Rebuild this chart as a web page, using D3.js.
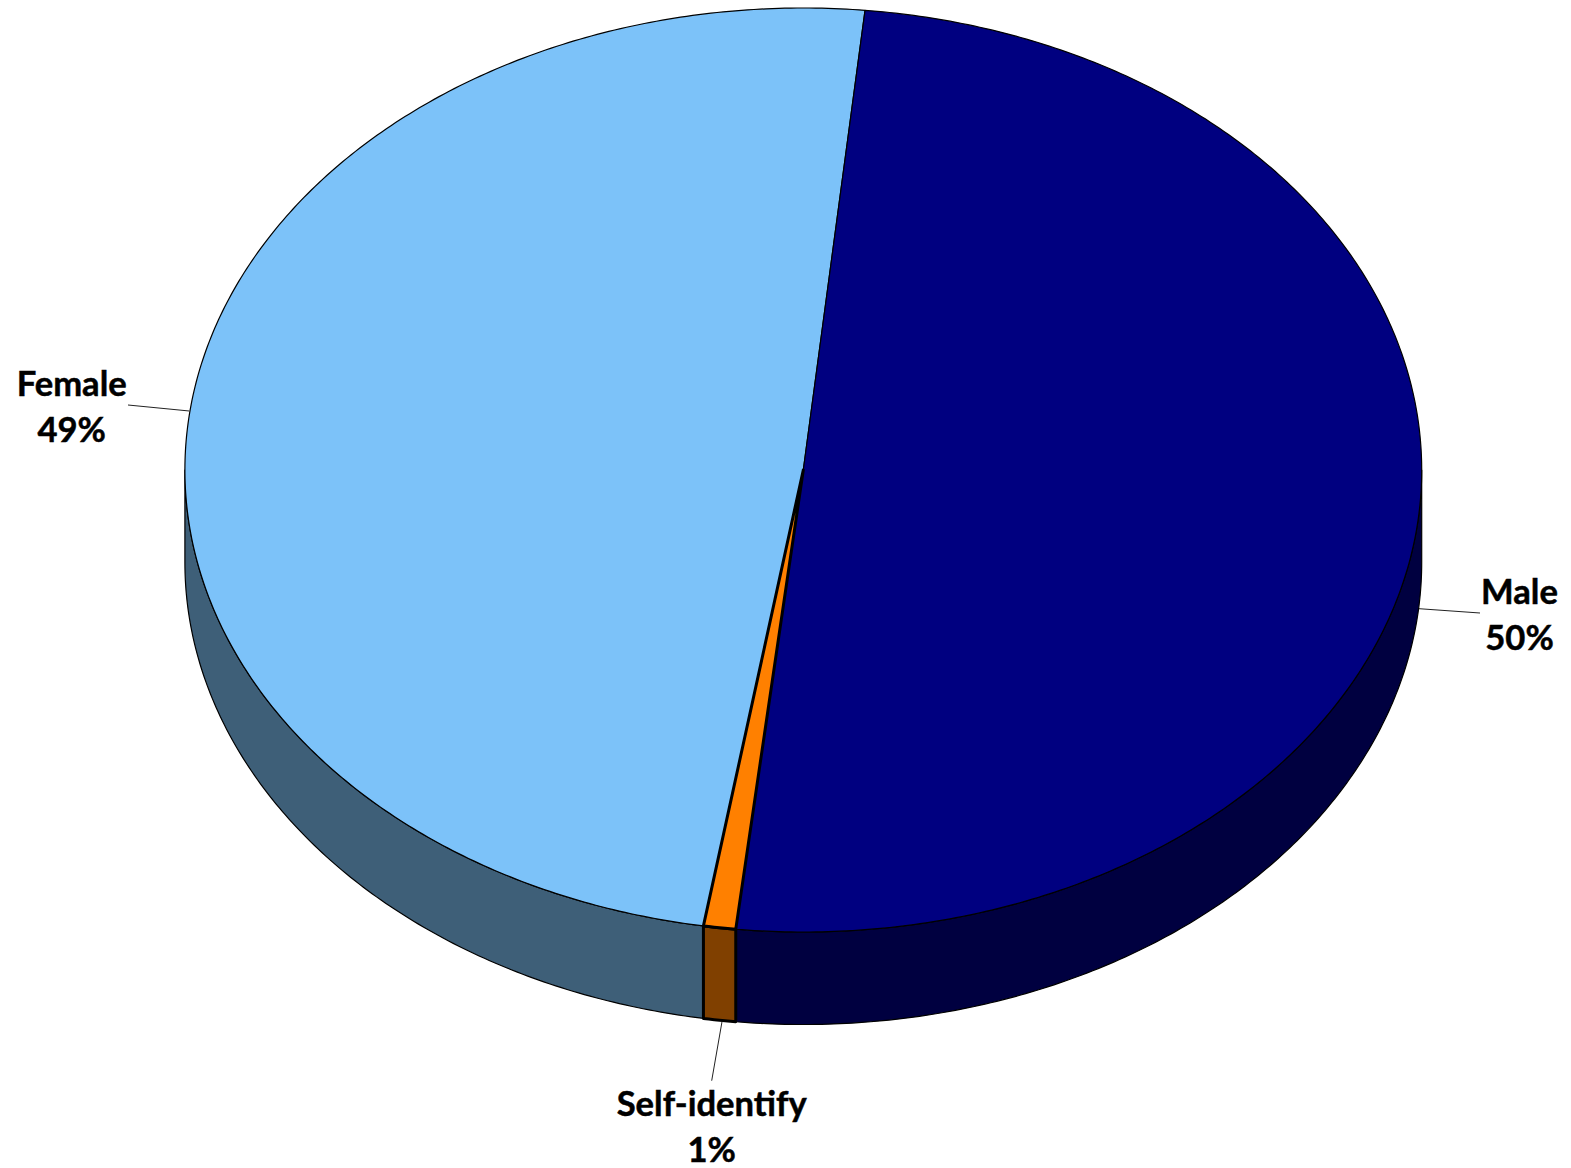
<!DOCTYPE html>
<html>
<head>
<meta charset="utf-8">
<script src="https://cdn.jsdelivr.net/npm/d3@7"></script>
<style>
html,body{margin:0;padding:0;background:#fff;overflow:hidden}
svg{display:block}
text{font-family:Lato,"Noto Sans",sans-serif;font-weight:700;font-size:34.6px;fill:#000;stroke:#000;stroke-width:0.5px;text-anchor:middle}
</style>
</head>
<body>
<svg id="chart" width="1571" height="1168"></svg>
<script>
const categories = ["Male", "Self-identify", "Female"];
const seriesValues = [50.15, 0.84, 49.01];

const topColors = ["#000080", "#FF8000", "#7CC2F9"];
const sideColors = ["#000040", "#804000", "#3E5F78"];
const edgeWidths = [1.2, 3, 1.2];

const W = 1571, H = 1168;
const cx = 803.3, cy = 470, rx = 618.4, ry = 462, depth = 92.5;
const startAngle = 5.73 * Math.PI / 180;

const pie = d3.pie().sort(null).value(d => d)
  .startAngle(startAngle).endAngle(startAngle + 2 * Math.PI);
const arcs = pie(seriesValues).map((a, i) => ({...a, i}));

const px = t => cx + rx * Math.sin(t);
const py = (t, dz = 0) => cy - ry * Math.cos(t) + dz;

const svg = d3.select("#chart");
const line = d3.line();

function samples(a0, a1) {
  const n = Math.max(2, Math.ceil(Math.abs(a1 - a0) / 0.01));
  return d3.range(n + 1).map(k => a0 + (a1 - a0) * k / n);
}

// Visible front wall: the part of each slice between 90deg and 270deg
function wall(a) {
  const lo = Math.max(a.startAngle, Math.PI / 2);
  const hi = Math.min(a.endAngle, 3 * Math.PI / 2);
  if (hi <= lo) return null;
  const ts = samples(lo, hi);
  return line(ts.map(t => [px(t), py(t)]).concat(ts.slice().reverse().map(t => [px(t), py(t, depth)]))) + "Z";
}

function slice(a) {
  const pts = [[cx, cy]].concat(samples(a.startAngle, a.endAngle).map(t => [px(t), py(t)]));
  return line(pts) + "Z";
}

const order = [2, 0, 1];

svg.append("g").selectAll("path")
  .data(order.map(i => arcs[i]).filter(wall))
  .join("path")
  .attr("d", wall)
  .attr("fill", d => sideColors[d.i])
  .attr("stroke", "#000")
  .attr("stroke-width", d => edgeWidths[d.i])
  .attr("stroke-linejoin", "round");

svg.append("g").selectAll("path")
  .data(order.map(i => arcs[i]))
  .join("path")
  .attr("d", slice)
  .attr("fill", d => topColors[d.i])
  .attr("stroke", "#000")
  .attr("stroke-width", d => edgeWidths[d.i])
  .attr("stroke-linejoin", "round");

// Label placement, one per category
const labelLayout = {
  "Male": {x: 1519.5, y: 604, leader: [[1419, 608.7], [1480, 613]]},
  "Self-identify": {x: 711.7, y: 1116, leader: [[722, 1021.7], [711.7, 1080.7]]},
  "Female": {x: 71.7, y: 396, leader: [[128, 405], [189.3, 411]]}
};
const total = d3.sum(seriesValues);
const pct = d3.format(".0%");
const labels = svg.append("g").selectAll("g")
  .data(categories.map((c, i) => ({c, v: seriesValues[i], ...labelLayout[c]})))
  .join("g");
labels.append("path")
  .attr("d", d => line(d.leader))
  .attr("fill", "none").attr("stroke", "#222").attr("stroke-width", 1);
labels.append("text").attr("x", d => d.x).attr("y", d => d.y).text(d => d.c);
labels.append("text").attr("x", d => d.x).attr("y", d => d.y + 46).text(d => pct(d.v / total));
</script>
</body>
</html>
